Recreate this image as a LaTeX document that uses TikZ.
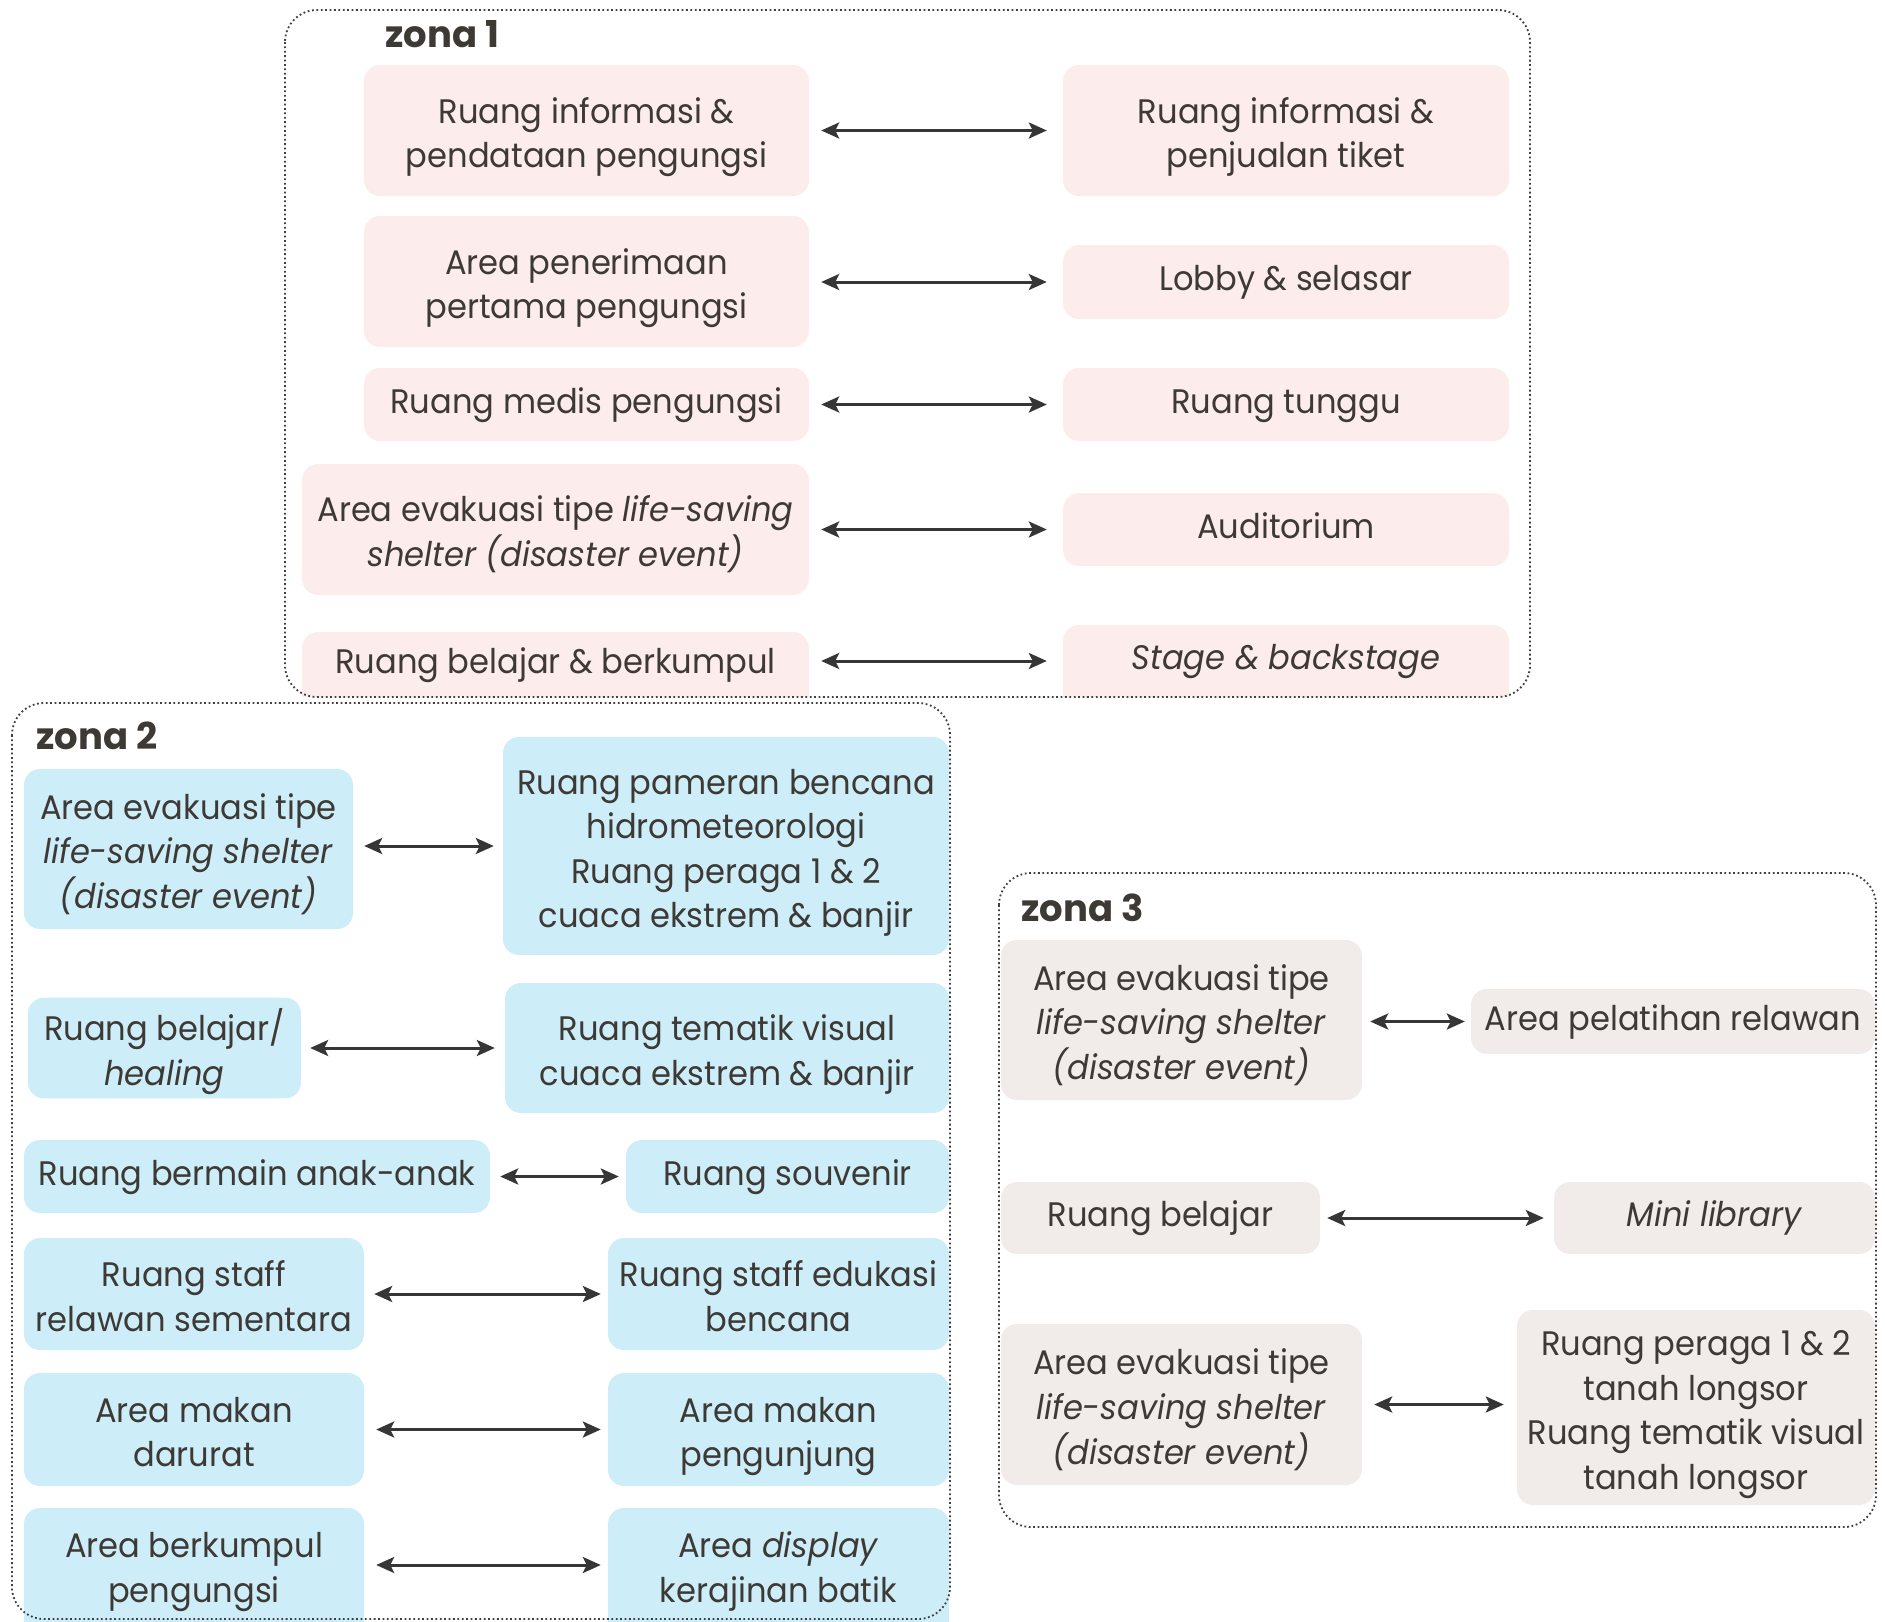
\documentclass[tikz,border=0pt]{standalone}
\usepackage{fontspec}
\setmainfont{Poppins}[FakeStretch=0.945]
\newfontfamily\zonefont{Poppins}
\usetikzlibrary{arrows.meta}
\definecolor{pinkfill}{HTML}{FDECEC}
\definecolor{bluefill}{HTML}{CDEDF9}
\definecolor{greyfill}{HTML}{F1ECE9}
\definecolor{txt}{HTML}{3D3935}
\definecolor{arr}{HTML}{363636}
\definecolor{frm}{HTML}{404040}
\newcommand{\tb}[1]{\begin{tabular}{@{}c@{}}#1\end{tabular}}
\newcommand{\mtb}[1]{\begin{tabular}{@{}c@{}}\rule{0pt}{43pt}#1\end{tabular}}
\tikzset{
  box/.style={rectangle, rounded corners=16pt, inner sep=0pt, text=txt,
    font=\fontsize{34}{44.5}\selectfont},
  pbox/.style={box, fill=pinkfill},
  bbox/.style={box, fill=bluefill},
  gbox/.style={box, fill=greyfill},
  conn/.style={draw=arr, line width=3pt, {Stealth[length=18pt,width=16pt,inset=4pt]}-{Stealth[length=18pt,width=16pt,inset=4pt]}},
  zoneframe/.style={draw=frm, line width=1.8pt, dash pattern=on 1.8pt off 2.6pt, rounded corners=32pt},
  zonelabel/.style={anchor=west, inner sep=0pt, text=txt, font=\zonefont\fontsize{37}{40}\selectfont\bfseries}
}
\begin{document}
\begin{tikzpicture}[x=1pt, y=-1pt]
\useasboundingbox (0,0) rectangle (1885,1622);
% underlays for boxes cut off at the bottom
\fill[pinkfill] (302,675) rectangle (809,697);
\fill[pinkfill] (1063,675) rectangle (1509,697);
\fill[bluefill] (24,1595) rectangle (364,1622);
\fill[bluefill] (608,1595) rectangle (949,1622);

% zona 1
\node[pbox, minimum width=445pt, minimum height=131pt] (l1) at (586.5,130.5) {\mtb{Ruang informasi \&\\pendataan pengungsi}};
\node[pbox, minimum width=445pt, minimum height=131pt] (l2) at (586.5,281.5) {\mtb{Area penerimaan\\pertama pengungsi}};
\node[pbox, minimum width=445pt, minimum height=73pt] (l3) at (586.5,404.5) {\tb{Ruang medis pengungsi}};
\node[pbox, minimum width=507pt, minimum height=131pt] (l4) at (555.5,529.5) {\mtb{Area evakuasi tipe \textit{life-saving}\\\textit{shelter (disaster event)}}};
\node[pbox, minimum width=507pt, minimum height=65pt] (l5) at (555.5,664.5) {\tb{Ruang belajar \& berkumpul}};
\node[pbox, minimum width=446pt, minimum height=131pt] (r1) at (1286,130.5) {\mtb{Ruang informasi \&\\penjualan tiket}};
\node[pbox, minimum width=446pt, minimum height=74pt] (r2) at (1286,282) {\tb{Lobby \& selasar}};
\node[pbox, minimum width=446pt, minimum height=73pt] (r3) at (1286,404.5) {\tb{Ruang tunggu}};
\node[pbox, minimum width=446pt, minimum height=73pt] (r4) at (1286,529.5) {\tb{Auditorium}};
\node[pbox, minimum width=446pt, minimum height=72pt] (r5) at (1286,661) {\tb{\textit{Stage \& backstage}}};

\draw[conn, shorten <=12pt, shorten >=16pt] (l1.east |- r1.west) -- (r1.west);
\draw[conn, shorten <=12pt, shorten >=16pt] (l2.east |- r2.west) -- (r2.west);
\draw[conn, shorten <=12pt, shorten >=16pt] (l3.east |- r3.west) -- (r3.west);
\draw[conn, shorten <=12pt, shorten >=16pt] (l4.east |- r4.west) -- (r4.west);
\draw[conn, shorten <=12pt, shorten >=16pt] (l5.east |- r5.west) -- (r5.west);

% zona 2
\node[bbox, minimum width=329pt, minimum height=160pt] (a1) at (188.5,849) {\mtb{Area evakuasi tipe\\\textit{life-saving shelter}\\\textit{(disaster event)}}};
\node[bbox, minimum width=273pt, minimum height=94pt] (a2) at (164.5,1048) {\mtb{Ruang belajar/\\\textit{healing}}};
\node[bbox, minimum width=466pt, minimum height=73pt] (a3) at (257,1176.5) {\tb{Ruang bermain anak-anak}};
\node[bbox, minimum width=340pt, minimum height=112pt] (a4) at (194,1294) {\mtb{Ruang staff\\relawan sementara}};
\node[bbox, minimum width=340pt, minimum height=113pt] (a5) at (194,1429.5) {\mtb{Area makan\\darurat}};
\node[bbox, minimum width=340pt, minimum height=114pt] (a6) at (194,1565) {\mtb{Area berkumpul\\pengungsi}};
\node[bbox, minimum width=446pt, minimum height=218pt] (b1) at (726,846) {\mtb{Ruang pameran bencana\\hidrometeorologi\\Ruang peraga 1 \& 2\\cuaca ekstrem \& banjir}};
\node[bbox, minimum width=444pt, minimum height=130pt] (b2) at (727,1048) {\mtb{Ruang tematik visual\\cuaca ekstrem \& banjir}};
\node[bbox, minimum width=323pt, minimum height=73pt] (b3) at (787.5,1176.5) {\tb{Ruang souvenir}};
\node[bbox, minimum width=341pt, minimum height=112pt] (b4) at (778.5,1294) {\mtb{Ruang staff edukasi\\bencana}};
\node[bbox, minimum width=341pt, minimum height=113pt] (b5) at (778.5,1429.5) {\mtb{Area makan\\pengunjung}};
\node[bbox, minimum width=341pt, minimum height=114pt] (b6) at (778.5,1565) {\mtb{Area \textit{display}\\kerajinan batik}};

\draw[conn, shorten <=11pt, shorten >=9pt] (a1.east |- b1.west) -- (b1.west);
\draw[conn, shorten <=9pt, shorten >=10pt] (a2.east |- b2.west) -- (b2.west);
\draw[conn, shorten <=10pt, shorten >=7pt] (a3.east |- b3.west) -- (b3.west);
\draw[conn, shorten <=10pt, shorten >=7pt] (a4.east |- b4.west) -- (b4.west);
\draw[conn, shorten <=12pt, shorten >=7pt] (a5.east |- b5.west) -- (b5.west);
\draw[conn, shorten <=12pt, shorten >=7pt] (a6.east |- b6.west) -- (b6.west);

% zona 3
\node[gbox, minimum width=361pt, minimum height=160pt] (c1) at (1181.5,1020) {\mtb{Area evakuasi tipe\\\textit{life-saving shelter}\\\textit{(disaster event)}}};
\node[gbox, minimum width=404pt, minimum height=65pt] (d1) at (1673,1021.5) {\tb{Area pelatihan relawan}};
\node[gbox, minimum width=319pt, minimum height=72pt] (c2) at (1160.5,1218) {\tb{Ruang belajar}};
\node[gbox, minimum width=321pt, minimum height=72pt] (d2) at (1714.5,1218) {\tb{\textit{Mini library}}};
\node[gbox, minimum width=361pt, minimum height=161pt] (c3) at (1181.5,1404.5) {\mtb{Area evakuasi tipe\\\textit{life-saving shelter}\\\textit{(disaster event)}}};
\node[gbox, minimum width=358pt, minimum height=195pt] (d3) at (1696,1407.5) {\mtb{Ruang peraga 1 \& 2\\tanah longsor\\Ruang tematik visual\\tanah longsor}};

\draw[conn, shorten <=8pt, shorten >=6pt] (c1.east |- d1.west) -- (d1.west);
\draw[conn, shorten <=7pt, shorten >=10pt] (c2.east |- d2.west) -- (d2.west);
\draw[conn, shorten <=12pt, shorten >=13pt] (c3.east) -- (c3.east -| d3.west);

% frames and labels
\draw[zoneframe] (285,10) rectangle (1530,697);
\draw[zoneframe] (12,703) rectangle (950,1619);
\draw[zoneframe] (999,873) rectangle (1876,1527);
\node[zonelabel] (z1) at (385,34) {zona 1};
\node[zonelabel] (z2) at (36,736) {zona 2};
\node[zonelabel] (z3) at (1021,908) {zona 3};
\end{tikzpicture}
\end{document}
